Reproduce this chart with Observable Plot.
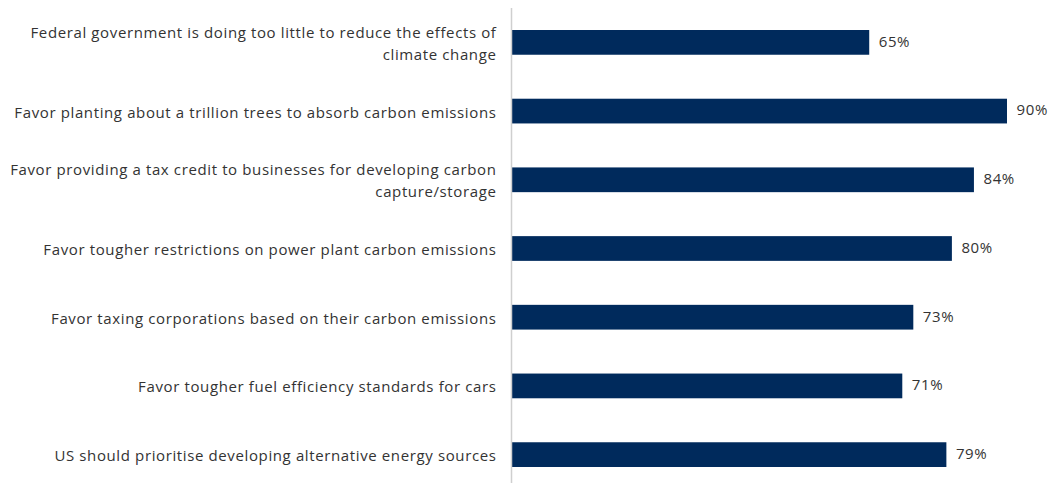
<!DOCTYPE html>
<html>
<head>
<meta charset="utf-8">
<script src="https://cdn.jsdelivr.net/npm/d3@7"></script>
<script src="https://cdn.jsdelivr.net/npm/@observablehq/plot@0.6"></script>
<style>
  html, body { margin: 0; padding: 0; background: #fff; }
  svg text { letter-spacing: 0.62px; }
</style>
</head>
<body>
<div id="chart"></div>
<script>
const categories = [
  "Federal government is doing too little to reduce the effects of\nclimate change",
  "Favor planting about a trillion trees to absorb carbon emissions",
  "Favor providing a tax credit to businesses for developing carbon\ncapture/storage",
  "Favor tougher restrictions on power plant carbon emissions",
  "Favor taxing corporations based on their carbon emissions",
  "Favor tougher fuel efficiency standards for cars",
  "US should prioritise developing alternative energy sources"
];
const values = [65, 90, 84, 80, 73, 71, 79];

const data = categories.map((c, i) => ({category: c, value: values[i]}));

const chart = Plot.plot({
  width: 1048,
  height: 483,
  marginLeft: 511,
  marginRight: 41,
  marginTop: 8,
  marginBottom: 0,
  style: {fontFamily: "'Open Sans', sans-serif", fontSize: "15px", color: "#333", background: "white"},
  x: {domain: [0, 90], axis: null},
  y: {domain: categories, range: [14, 483], paddingInner: 0.64, paddingOuter: 0.233, round: false, axis: null},
  marks: [
    Plot.barX(data, {x: "value", y: "category", fill: "#002a5c"}),
    Plot.ruleX([0], {stroke: "#cfcfcf", strokeWidth: 1.5}),
    Plot.text(data, {y: "category", text: "category", frameAnchor: "left", textAnchor: "end", dx: -15, dy: -1, lineHeight: 1.45, fill: "#333", fontSize: 15}),
    Plot.text(data, {x: "value", y: "category", text: d => d.value + "%", textAnchor: "start", dx: 9, dy: -1, fill: "#333", fontSize: 15})
  ]
});
document.getElementById("chart").appendChild(chart);
</script>
</body>
</html>
